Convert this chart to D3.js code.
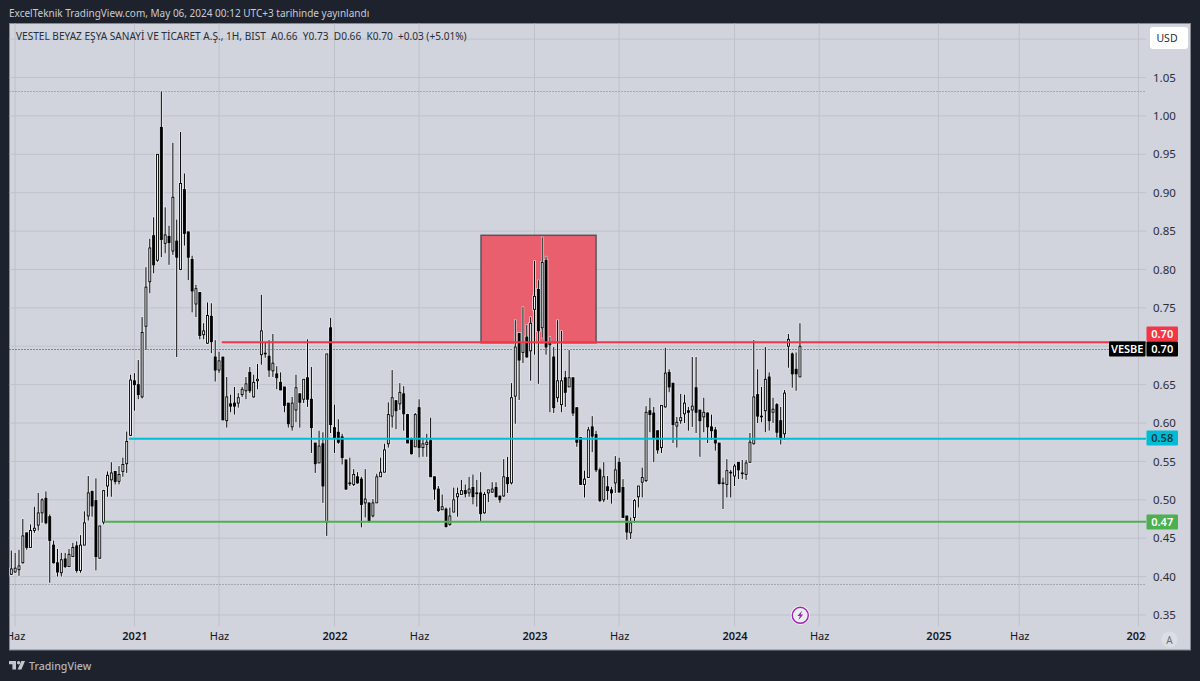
<!DOCTYPE html>
<html>
<head>
<meta charset="utf-8">
<script src="https://d3js.org/d3.v7.min.js"></script>
<style>
html, body { margin: 0; padding: 0; background: #1e222d; }
svg { display: block; font-family: "Noto Sans", sans-serif; }
</style>
</head>
<body>
<div id="svg"></div>
<script>
// weekly candles
var opens = [
  .403,.406,.409,.418,.457,.438,.460,.467,.483,.502,
  .478,.441,.418,.405,.423,.413,.426,.440,.408,.441,
  .479,.511,.499,.424,.471,.518,.526,.537,.524,.537,
  .547,.584,.655,.650,.634,.726,.784,.844,.812,.985,
  .834,.843,.824,.837,.800,.904,.849,.813,.755,.770,
  .715,.704,.739,.686,.669,.686,.603,.625,.626,.626,
  .637,.642,.666,.634,.655,.689,.691,.687,.668,.664,
  .653,.647,.626,.595,.617,.638,.631,.659,.631,.574,
  .548,.573,.471,.724,.594,.588,.582,.552,.522,.520,
  .530,.527,.496,.496,.479,.496,.530,.536,.573,.609,
  .629,.625,.638,.611,.579,.569,.620,.568,.572,.577,
  .530,.514,.487,.488,.468,.484,.504,.507,.512,.509,
  .516,.509,.509,.483,.509,.510,.516,.505,.505,.529,
  .522,.635,.717,.692,.712,.694,.748,.774,.724,.812,
  .702,.686,.633,.624,.659,.647,.659,.620,.581,.520,
  .529,.595,.585,.539,.500,.517,.513,.522,.549,.516,
  .479,.457,.477,.504,.523,.525,.616,.613,.590,.568,
  .621,.666,.652,.596,.603,.612,.616,.617,.646,.617,
  .608,.613,.595,.591,.574,.522,.520,.536,.531,.549,
  .535,.533,.549,.573,.637,.609,.616,.660,.614,.624,
  .603,.586,.700,.690,.670,.660
];
var highs = [
  .434,.431,.435,.475,.457,.468,.491,.509,.502,.511,
  .481,.447,.436,.431,.431,.436,.444,.446,.454,.485,
  .531,.512,.528,.466,.513,.537,.549,.537,.544,.555,
  .589,.663,.665,.682,.738,.803,.840,.868,.950,1.032,
  .881,.857,.965,.865,.979,.925,.849,.818,.780,.770,
  .730,.757,.756,.708,.693,.686,.660,.637,.647,.639,
  .647,.660,.673,.663,.677,.767,.705,.708,.716,.674,
  .666,.647,.626,.634,.663,.639,.657,.709,.673,.574,
  .590,.588,.690,.737,.624,.605,.586,.552,.555,.540,
  .536,.530,.540,.496,.501,.534,.555,.573,.627,.669,
  .630,.652,.648,.612,.581,.613,.631,.581,.586,.607,
  .530,.518,.507,.490,.490,.516,.516,.526,.520,.530,
  .533,.526,.536,.510,.513,.523,.523,.505,.553,.556,
  .652,.734,.717,.751,.728,.738,.811,.786,.842,.817,
  .712,.699,.734,.720,.668,.695,.659,.620,.581,.538,
  .595,.609,.590,.542,.549,.531,.517,.557,.555,.527,
  .479,.477,.501,.518,.542,.622,.633,.621,.590,.623,
  .698,.670,.652,.608,.638,.637,.621,.686,.686,.617,
  .633,.614,.611,.595,.574,.529,.553,.539,.547,.549,
  .552,.552,.587,.708,.670,.647,.699,.666,.633,.626,
  .621,.643,.716,.692,.692,.730
];
var lows = [
  .402,.405,.401,.417,.435,.438,.457,.460,.470,.468,
  .392,.417,.400,.400,.411,.413,.426,.405,.405,.441,
  .473,.478,.408,.423,.468,.504,.504,.520,.520,.530,
  .535,.583,.616,.631,.632,.695,.769,.795,.810,.816,
  .821,.806,.819,.686,.799,.831,.786,.744,.738,.709,
  .709,.703,.691,.654,.665,.604,.594,.614,.611,.620,
  .634,.631,.639,.633,.644,.676,.685,.660,.660,.644,
  .643,.614,.594,.590,.601,.594,.626,.621,.561,.535,
  .548,.496,.453,.587,.561,.573,.546,.513,.518,.518,
  .521,.464,.477,.470,.477,.496,.530,.536,.568,.594,
  .592,.617,.590,.574,.559,.569,.555,.556,.556,.530,
  .500,.484,.487,.464,.466,.484,.478,.507,.503,.504,
  .494,.491,.471,.482,.497,.509,.503,.496,.504,.509,
  .520,.599,.630,.678,.685,.655,.689,.651,.711,.689,
  .614,.613,.627,.614,.621,.647,.609,.569,.520,.503,
  .529,.562,.536,.497,.497,.500,.495,.509,.510,.477,
  .448,.449,.470,.490,.503,.523,.588,.549,.560,.561,
  .620,.640,.574,.568,.599,.600,.590,.595,.587,.556,
  .588,.574,.578,.564,.520,.488,.503,.503,.518,.527,
  .527,.526,.548,.572,.600,.601,.588,.590,.600,.581,
  .572,.578,.672,.646,.642,.660
];
var closes = [
  .410,.411,.414,.453,.438,.460,.463,.483,.500,.470,
  .447,.418,.406,.422,.413,.429,.438,.408,.441,.470,
  .509,.492,.426,.466,.512,.532,.535,.524,.533,.546,
  .576,.656,.650,.637,.718,.777,.828,.806,.950,.839,
  .845,.835,.894,.816,.912,.847,.816,.772,.775,.714,
  .720,.740,.706,.669,.681,.604,.634,.622,.622,.633,
  .644,.651,.642,.653,.657,.720,.690,.669,.678,.659,
  .643,.623,.599,.626,.646,.627,.657,.631,.594,.547,
  .570,.518,.690,.598,.581,.575,.555,.514,.521,.533,
  .522,.494,.501,.473,.496,.530,.536,.565,.611,.633,
  .616,.640,.612,.574,.560,.611,.568,.573,.575,.530,
  .514,.486,.491,.465,.479,.500,.508,.512,.508,.514,
  .504,.508,.482,.507,.513,.514,.504,.500,.530,.521,
  .633,.699,.682,.705,.686,.730,.765,.720,.809,.699,
  .704,.620,.655,.655,.640,.659,.613,.575,.520,.527,
  .591,.583,.539,.499,.530,.512,.509,.539,.510,.477,
  .458,.470,.499,.518,.529,.614,.611,.581,.565,.623,
  .665,.647,.598,.601,.607,.626,.614,.622,.614,.603,
  .614,.595,.590,.574,.521,.521,.538,.535,.544,.539,
  .534,.548,.575,.634,.609,.608,.657,.603,.618,.588,
  .581,.639,.709,.664,.664,.700
];

// axis ticks: bar number and label on the time axis, prices on the right
var timeTickBars = [1, 32, 54, 84, 106, 136, 158, 188, 210, 241, 262, 293];
var timeTickLabels = ["Haz", "2021", "Haz", "2022", "Haz", "2023", "Haz", "2024", "Haz", "2025", "Haz", "2026"];
var priceGrid = [1.10, 1.05, 1.00, .95, .90, .85, .80, .75, .70, .65, .60, .55, .50, .45, .40, .35];
var priceTicks = [1.05, 1.00, .95, .90, .85, .80, .75, .65, .60, .55, .50, .45, .40, .35];

// drawings on the chart
var lineNames = ["resistance", "support", "floor"];
var linePrices = [.7051, .5796, .4715];
var lineStartBars = [54.7, 30.6, 24.2];
var lineLabels = ["0.70", "0.58", "0.47"];
var tagPrices = [.7155, .58, .4717]; // the red tag sits above the last price tag
var dottedPrices = [1.0327, .39];
var lastPrice = .697;
var zonePrices = [.8445, .7045];
var zoneBars = [122.1, 152];

var width = 1200;
var height = 681;
var panelLeft = 9.5;
var panelRight = 1190.5;
var panelTop = 23.5;
var panelBottom = 650;
var plotRight = 1146;
var gridBottom = 626;

var barColor = "#000000";
var lineColors = { resistance: "#f23645", support: "#00bcd4", floor: "#4caf50" };
var labelText = { resistance: "#ffffff", support: "#0e3a44", floor: "#ffffff" };
var bars = d3.range(opens.length);

var x = d3.scaleLinear().domain([0, 293]).range([11.3, 1138.5]);
var y = d3.scaleLinear().domain([1.05, .35]).range([77.5, 615]);

var svg = d3.select("#svg").append("svg")
    .attr("width", width)
    .attr("height", height);

svg.append("defs").append("clipPath").attr("id", "plotClip")
    .append("rect")
    .attr("x", panelLeft).attr("y", panelTop)
    .attr("width", plotRight - panelLeft).attr("height", panelBottom - panelTop);

svg.append("rect")
    .attr("width", width).attr("height", height)
    .attr("fill", "#1e222d");

svg.append("text")
    .attr("x", 9).attr("y", 17)
    .attr("font-size", "10px")
    .attr("fill", "#c8cbd3")
    .text("ExcelTeknik TradingView.com, May 06, 2024 00:12 UTC+3 tarihinde yayınlandı");

svg.append("rect")
    .attr("x", panelLeft).attr("y", panelTop)
    .attr("width", panelRight - panelLeft).attr("height", panelBottom - panelTop)
    .attr("fill", "#d1d4dc")
    .attr("stroke", "#868993");

// grid
svg.append("g").selectAll("line").data(priceGrid).enter().append("line")
    .attr("x1", panelLeft).attr("x2", plotRight)
    .attr("y1", function (d) { return y(d); })
    .attr("y2", function (d) { return y(d); })
    .attr("stroke", "#bfc2cb");
svg.append("g").selectAll("line").data(timeTickBars).enter().append("line")
    .attr("x1", function (d) { return x(d); })
    .attr("x2", function (d) { return x(d); })
    .attr("y1", panelTop).attr("y2", gridBottom)
    .attr("stroke", "#bfc2cb");

// dotted levels
svg.append("g").selectAll("line").data(dottedPrices).enter().append("line")
    .attr("x1", panelLeft).attr("x2", plotRight)
    .attr("y1", function (d) { return Math.round(y(d)) + .5; })
    .attr("y2", function (d) { return Math.round(y(d)) + .5; })
    .attr("stroke", "#787b86")
    .attr("stroke-dasharray", "1 2");

// red zone, the candles show on top of it
svg.append("rect")
    .attr("x", x(zoneBars[0])).attr("y", y(zonePrices[0]))
    .attr("width", x(zoneBars[1]) - x(zoneBars[0]))
    .attr("height", y(zonePrices[1]) - y(zonePrices[0]))
    .attr("fill", "#ea5f6e")
    .attr("stroke", "#55565e")
    .attr("stroke-width", 1.5);

// last price line
svg.append("line")
    .attr("x1", panelLeft).attr("x2", 1109)
    .attr("y1", Math.round(y(lastPrice)) + .5).attr("y2", Math.round(y(lastPrice)) + .5)
    .attr("stroke", "#33353d")
    .attr("stroke-dasharray", "1 2");

// candles, with the pale edge the screenshot has round every bar
var halo = svg.append("g");
halo.selectAll("line").data(bars).enter().append("line")
    .attr("x1", function (i) { return x(i); })
    .attr("x2", function (i) { return x(i); })
    .attr("y1", function (i) { return y(highs[i]) - .5; })
    .attr("y2", function (i) { return y(lows[i]) + .5; })
    .attr("stroke", "#eceef3")
    .attr("stroke-width", 2.4);
halo.selectAll("rect").data(bars).enter().append("rect")
    .attr("x", function (i) { return x(i) - 2.2; })
    .attr("y", function (i) { return y(Math.max(opens[i], closes[i])) - 1.1; })
    .attr("width", 4.4)
    .attr("height", function (i) { return Math.abs(y(opens[i]) - y(closes[i])) + 2.2; })
    .attr("fill", "#eceef3");

var candles = svg.append("g");
candles.selectAll("line").data(bars).enter().append("line")
    .attr("x1", function (i) { return x(i); })
    .attr("x2", function (i) { return x(i); })
    .attr("y1", function (i) { return y(highs[i]); })
    .attr("y2", function (i) { return y(lows[i]); })
    .attr("stroke", barColor);
candles.selectAll("rect").data(bars).enter().append("rect")
    .attr("x", function (i) { return x(i) - 1; })
    .attr("y", function (i) { return y(Math.max(opens[i], closes[i])); })
    .attr("width", 2)
    .attr("height", function (i) { return Math.max(.6, Math.abs(y(opens[i]) - y(closes[i]))); })
    .attr("fill", function (i) { return closes[i] >= opens[i] ? "#eef0f4" : barColor; })
    .attr("stroke", barColor)
    .attr("stroke-width", .9);

// horizontal levels
svg.append("g").selectAll("line").data(lineNames).enter().append("line")
    .attr("x1", function (d, i) { return x(lineStartBars[i]); })
    .attr("x2", plotRight)
    .attr("y1", function (d, i) { return y(linePrices[i]); })
    .attr("y2", function (d, i) { return y(linePrices[i]); })
    .attr("stroke", function (d) { return lineColors[d]; })
    .attr("stroke-width", 2);

// axes
var priceAxis = d3.axisRight(y)
    .tickValues(priceTicks)
    .tickSize(0)
    .tickPadding(0)
    .tickFormat(d3.format(".2f"));
var priceG = svg.append("g")
    .attr("transform", "translate(1153,0)")
    .call(priceAxis);
priceG.select(".domain").remove();
priceG.selectAll("text")
    .attr("font-size", "11.5px")
    .attr("font-family", "'Noto Sans', sans-serif")
    .attr("fill", "#2a2e39");

var timeAxis = d3.axisBottom(x)
    .tickValues(timeTickBars)
    .tickSize(0)
    .tickPadding(0)
    .tickFormat(function (d, i) { return timeTickLabels[i]; });
var timeG = svg.append("g")
    .attr("clip-path", "url(#plotClip)")
    .append("g")
    .attr("transform", "translate(0,632)")
    .call(timeAxis);
timeG.select(".domain").remove();
timeG.selectAll("text")
    .attr("font-size", "11px")
    .attr("font-family", "'Noto Sans', sans-serif")
    .attr("font-weight", function (d, i) { return timeTickLabels[i] === "Haz" ? 400 : 600; })
    .attr("fill", "#131722");

// price tags
function priceTag(left, right, price, fill, color, label) {
    var mid = Math.round(y(price));
    svg.append("rect")
        .attr("x", left).attr("y", mid - 7.5)
        .attr("width", right - left).attr("height", 15)
        .attr("rx", 1)
        .attr("fill", fill);
    svg.append("text")
        .attr("x", (left + right) / 2).attr("y", mid + 4)
        .attr("text-anchor", "middle")
        .attr("font-size", "11px")
        .attr("font-weight", 600)
        .attr("fill", color)
        .text(label);
}
lineNames.forEach(function (d, i) {
    priceTag(1146.5, 1178, tagPrices[i], lineColors[d], labelText[d], lineLabels[i]);
});
priceTag(1109, 1145.5, lastPrice, "#000000", "#ffffff", "VESBE");
priceTag(1146.5, 1178, lastPrice, "#000000", "#ffffff", "0.70");

// legend line
svg.append("text")
    .attr("x", 16).attr("y", 40)
    .attr("font-size", "10.1px")
    .attr("fill", "#2a2e39")
    .style("white-space", "pre")
    .text("VESTEL BEYAZ EŞYA SANAYİ VE TİCARET A.Ş., 1H, BIST  A0.66  Y0.73  D0.66  K0.70  +0.03 (+5.01%)");

// USD button
svg.append("rect")
    .attr("x", 1150).attr("y", 27)
    .attr("width", 38).attr("height", 22)
    .attr("rx", 3)
    .attr("fill", "#ffffff");
svg.append("text")
    .attr("x", 1167).attr("y", 42)
    .attr("text-anchor", "middle")
    .attr("font-size", "10.5px")
    .attr("fill", "#2a2e39")
    .text("USD");

// auto scale button
svg.append("circle")
    .attr("cx", 1169.5).attr("cy", 639.5).attr("r", 8)
    .attr("fill", "#dcdee5");
svg.append("text")
    .attr("x", 1169.5).attr("y", 643.5)
    .attr("text-anchor", "middle")
    .attr("font-size", "10px")
    .attr("fill", "#6a6d78")
    .text("A");

// earnings bolt
var bolt = svg.append("g").attr("transform", "translate(800.3,615.3)");
bolt.append("circle").attr("r", 9.6).attr("fill", "#f1f2f5");
bolt.append("circle").attr("r", 8).attr("fill", "#eceef3").attr("stroke", "#9c27b0").attr("stroke-width", 1.4);
bolt.append("path")
    .attr("d", "M1.8,-4.6 L-3,0.8 L-0.4,0.8 L-1.8,4.6 L3,-0.8 L0.4,-0.8 Z")
    .attr("fill", "#9c27b0");

// TradingView mark
var logo = svg.append("g").attr("transform", "translate(9,661)").attr("fill", "#c3c6ce");
logo.append("path").attr("d", "M0,0 H7 V8.5 H3.4 V3.2 H0 Z");
logo.append("circle").attr("cx", 9.6).attr("cy", 1.7).attr("r", 1.7);
logo.append("path").attr("d", "M12.4,0 H16 L12.4,8.5 H8.6 Z");
svg.append("text")
    .attr("x", 29).attr("y", 670)
    .attr("font-size", "10.6px")
    .attr("font-weight", 500)
    .attr("fill", "#b2b5be")
    .text("TradingView");
</script>
</body>
</html>
